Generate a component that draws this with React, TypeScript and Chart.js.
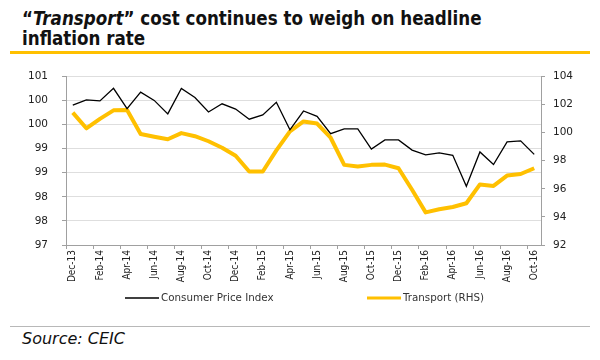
import React, { useEffect, useRef } from "react";
import { Chart, registerables } from "chart.js";

Chart.register(...registerables);

const months: string[] = [
  "Dec-13", "Jan-14", "Feb-14", "Mar-14", "Apr-14", "May-14", "Jun-14", "Jul-14", "Aug-14", "Sep-14", "Oct-14", "Nov-14",
  "Dec-14", "Jan-15", "Feb-15", "Mar-15", "Apr-15", "May-15", "Jun-15", "Jul-15", "Aug-15", "Sep-15", "Oct-15", "Nov-15",
  "Dec-15", "Jan-16", "Feb-16", "Mar-16", "Apr-16", "May-16", "Jun-16", "Jul-16", "Aug-16", "Sep-16", "Oct-16",
];

const cpiValues: number[] = [
  99.9, 100.01, 99.99, 100.25, 99.83, 100.17, 100.0, 99.72, 100.25, 100.06, 99.76, 99.93,
  99.82, 99.61, 99.7, 99.96, 99.39, 99.78, 99.67, 99.31, 99.41, 99.41, 98.99, 99.18,
  99.18, 98.97, 98.87, 98.91, 98.86, 98.22, 98.93, 98.67, 99.14, 99.16, 98.88,
];

const transportValues: number[] = [
  101.42, 100.3, 100.97, 101.58, 101.6, 99.9, 99.7, 99.52, 99.96, 99.74, 99.38, 98.92,
  98.35, 97.23, 97.23, 98.73, 100.08, 100.79, 100.64, 99.63, 97.7, 97.58, 97.7, 97.72,
  97.46, 95.93, 94.32, 94.54, 94.7, 94.97, 96.31, 96.2, 96.94, 97.05, 97.46,
];

const seriesNames: string[] = ["Consumer Price Index", "Transport (RHS)"];

const leftAxis = { min: 97, max: 100.5, step: 0.5 };
const rightAxis = { min: 92, max: 104, step: 2 };

const GOLD = "#FFC000";
const legendX = [125, 367];

const legendPlugin = {
  id: "customLegend",
  afterDraw(chart: any) {
    const ctx = chart.ctx;
    const y = 242;
    ctx.save();
    chart.data.datasets.forEach((ds: any, i: number) => {
      const x = legendX[i];
      ctx.beginPath();
      ctx.strokeStyle = ds.borderColor;
      ctx.lineWidth = i === 0 ? 1.3 : 3;
      ctx.moveTo(x, y);
      ctx.lineTo(x + 34, y);
      ctx.stroke();
      ctx.fillStyle = "#333";
      ctx.font = "10.3px 'DejaVu Sans', sans-serif";
      ctx.textBaseline = "middle";
      ctx.textAlign = "left";
      ctx.fillText(ds.label, x + 36, y + 0.5);
    });
    ctx.restore();
  },
};

export default function App() {
  const ref = useRef<HTMLCanvasElement | null>(null);

  useEffect(() => {
    if (!ref.current) return;
    const chart = new Chart(ref.current, {
      type: "line",
      data: {
        labels: months,
        datasets: [
          {
            label: seriesNames[0],
            data: cpiValues,
            borderColor: "#000000",
            borderWidth: 1.3,
            pointRadius: 0,
            tension: 0,
            yAxisID: "y",
          },
          {
            label: seriesNames[1],
            data: transportValues,
            borderColor: GOLD,
            borderWidth: 4,
            pointRadius: 0,
            tension: 0,
            borderJoinStyle: "round",
            yAxisID: "y2",
          },
        ],
      },
      options: {
        animation: false,
        responsive: false,
        devicePixelRatio: 1,
        layout: { padding: { top: 10.7, bottom: 35, left: 0, right: 0 } },
        plugins: {
          legend: { display: false },
          tooltip: { enabled: false },
          title: { display: false },
        },
        scales: {
          x: {
            type: "category",
            offset: true,
            afterFit: (s: any) => {
              s.height = 40;
            },
            grid: {
              offset: true,
              drawOnChartArea: false,
              tickLength: 4,
              color: (c: any) =>
                c.index !== undefined && c.index % 2 === 0 ? "#a0a0a0" : "rgba(0,0,0,0)",
            },
            border: { color: "#a0a0a0", width: 1 },
            ticks: {
              autoSkip: false,
              minRotation: 90,
              maxRotation: 90,
              padding: 1,
              color: "#222",
              font: { family: "'DejaVu Sans Condensed', 'Liberation Sans Narrow', 'DejaVu Sans', sans-serif", size: 10 },
              callback: function (this: any, _v: any, i: number) {
                return i % 2 === 0 ? months[i] : "";
              },
            },
          },
          y: {
            position: "left",
            min: leftAxis.min,
            max: leftAxis.max,
            afterFit: (s: any) => {
              s.width = 66;
            },
            grid: { color: "#dedede", lineWidth: 1, tickLength: 4, tickColor: "#a0a0a0" },
            border: { color: "#a0a0a0", width: 1 },
            ticks: {
              stepSize: leftAxis.step,
              padding: 14,
              color: "#222",
              font: { family: "'DejaVu Sans', sans-serif", size: 10.5 },
              callback: (v: any) => String(Math.round(Number(v))),
            },
          },
          y2: {
            position: "right",
            min: rightAxis.min,
            max: rightAxis.max,
            afterFit: (s: any) => {
              s.width = 59;
            },
            grid: { drawOnChartArea: false, tickLength: 4, tickColor: "#a0a0a0" },
            border: { color: "#a0a0a0", width: 1 },
            ticks: {
              stepSize: rightAxis.step,
              padding: 8,
              color: "#222",
              font: { family: "'DejaVu Sans', sans-serif", size: 10.5 },
            },
          },
        },
      },
      plugins: [legendPlugin],
    } as any);
    return () => chart.destroy();
  }, []);

  const titleFont = "'DejaVu Sans Condensed', 'DejaVu Sans', sans-serif";

  return (
    <div
      style={{
        position: "absolute",
        left: 0,
        top: 0,
        width: 600,
        height: 360,
        background: "#fff",
        overflow: "hidden",
      }}
    >
      <div
        style={{
          position: "absolute",
          left: 22,
          top: 9,
          fontFamily: titleFont,
          fontWeight: "bold",
          fontSize: 18.6,
          lineHeight: "20px",
          color: "#111",
          whiteSpace: "nowrap",
        }}
      >
        <div>
          “<i>Transport</i>” cost continues to weigh on headline
        </div>
        <div>inflation rate</div>
      </div>
      <div
        style={{ position: "absolute", left: 10, top: 51, width: 580, height: 3, background: GOLD }}
      />
      <canvas
        ref={ref}
        width={600}
        height={264}
        style={{ position: "absolute", left: 0, top: 56, width: 600, height: 264 }}
      />
      <div
        style={{ position: "absolute", left: 10, top: 326, width: 580, height: 1, background: "#b8b8b8" }}
      />
      <div
        style={{
          position: "absolute",
          left: 22,
          top: 329,
          fontFamily: "'DejaVu Sans', sans-serif",
          fontStyle: "italic",
          fontSize: 16,
          lineHeight: "20px",
          color: "#111",
        }}
      >
        Source: CEIC
      </div>
    </div>
  );
}
